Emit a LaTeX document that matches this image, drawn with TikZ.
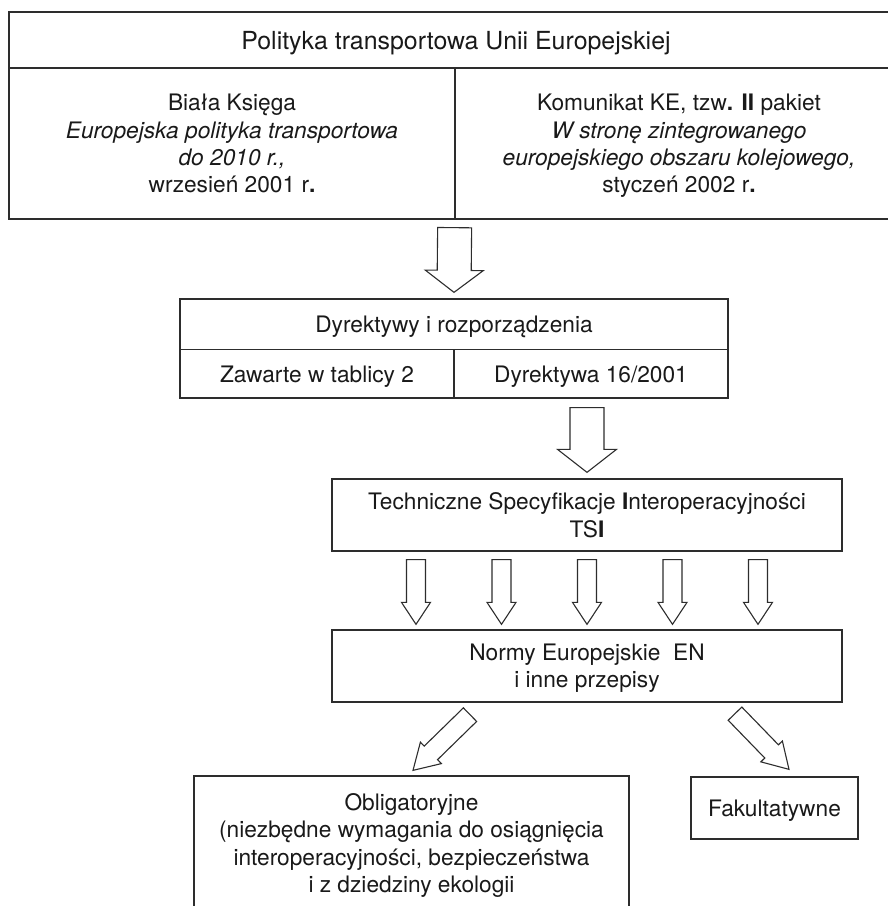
\documentclass[tikz,border=0pt]{standalone}
\usepackage{fontspec}
\setmainfont{TeX Gyre Heros}
\usetikzlibrary{calc}
\definecolor{frame}{RGB}{45,45,45}
\definecolor{print}{RGB}{25,25,25}

\newcommand{\hollowarrow}[5]{%
    \coordinate (headbase) at ($(#2)!#5!(#1)$);
    \draw[arrowline] ($(#1)!#3!90:(#2)$) -- ($(headbase)!#3!-90:(#1)$)
        -- ($(headbase)!#4!-90:(#1)$) -- (#2) -- ($(headbase)!#4!90:(#1)$)
        -- ($(headbase)!#3!90:(#1)$) -- ($(#1)!#3!-90:(#2)$) -- cycle;}

\begin{document}
\begin{tikzpicture}[x=1pt, y=-1pt]
            \tikzstyle{cell} = [draw=frame, line width=1.3pt, inner sep=0pt, text=print,
                align=center, text depth=0pt, font=\fontsize{22.7}{27.3}\selectfont]
            \tikzstyle{arrowline} = [draw=frame, line width=1.1pt, line join=miter, fill=white]
            \useasboundingbox (0,0) rectangle (888,906);
            \clip (0,0) rectangle (888,906);

            \node[cell, minimum width=894pt, minimum height=56pt,
                font=\fontsize{24.9}{30}\selectfont] (eu) at (456,40)
                {Polityka transportowa Unii Europejskiej};
            \node[cell, minimum width=446pt, minimum height=151pt] (biala) at (232,143.5)
                {Biała Księga\\ \textit{Europejska polityka transportowa}\\
                 \textit{do 2010 r.,}\\ wrzesień 2001 r\textbf{.}};
            \node[cell, minimum width=448pt, minimum height=151pt] (kom) at (679,143.5)
                {Komunikat KE, tzw\textbf{. II} pakiet\\ \textit{W stronę zintegrowanego}\\
                 \textit{europejskiego obszaru kolejowego,}\\ styczeń 2002 r\textbf{.}};

            \node[cell, minimum width=548pt, minimum height=50.5pt] (dyr) at (454,324.25)
                {Dyrektywy i rozporządzenia};
            \node[cell, minimum width=274pt, minimum height=48.5pt] (zaw) at (317,373.75)
                {Zawarte w tablicy 2};
            \node[cell, minimum width=274pt, minimum height=48.5pt] (d16) at (591,373.75)
                {Dyrektywa 16/2001};

            \node[cell, minimum width=510pt, minimum height=72pt] (tsi) at (587,515)
                {Techniczne Specyfikacje \textbf{I}nteroperacyjności\\ TS\textbf{I}};
            \node[cell, minimum width=510pt, minimum height=72pt] (norm) at (587,666)
                {Normy Europejskie\ \ EN\\ i inne przepisy};

            \node[cell, minimum width=435pt, minimum height=134pt] (obl) at (411.5,843)
                {Obligatoryjne\\ (niezbędne wymagania do osiągnięcia\\
                 interoperacyjności, bezpieczeństwa\\ i z dziedziny ekologii};
            \node[cell, minimum width=167pt, minimum height=62pt] (fak) at (774.5,808)
                {Fakultatywne};

            \coordinate (up) at ($(biala.south east)+(-1,8)$);
            \coordinate (uptip) at ($(dyr.north)+(0,-6)$);
            \hollowarrow{up}{uptip}{17pt}{29pt}{22pt}

            \coordinate (mid) at ($(d16.south -| tsi.north)+(0,9)$);
            \coordinate (midtip) at ($(tsi.north)+(0,-6)$);
            \hollowarrow{mid}{midtip}{17pt}{29.5pt}{23pt}

            \foreach \k in {-2,...,2} {
                \coordinate (tsi\k) at ($(tsi.south)+({\k*85.5},8)$);
                \coordinate (norm\k) at ($(norm.north)+({\k*85.5},-5)$);
                \hollowarrow{tsi\k}{norm\k}{9.5pt}{14.5pt}{22pt}
            }

            \coordinate (left) at ($(norm.south)+(-117,12)$);
            \coordinate (lefttip) at ($(obl.north)+(1.5,-5)$);
            \hollowarrow{left}{lefttip}{9.5pt}{15pt}{25pt}
            \coordinate (right) at ($(norm.south)+(148,11)$);
            \coordinate (righttip) at ($(fak.north)+(14.5,-7)$);
            \hollowarrow{right}{righttip}{9.5pt}{15pt}{25pt}
\end{tikzpicture}
\end{document}
